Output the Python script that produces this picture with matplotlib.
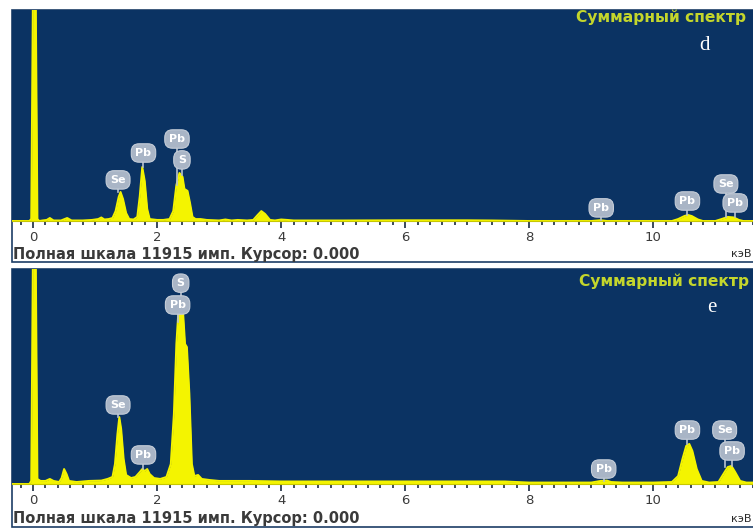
import matplotlib.pyplot as plt
from matplotlib.patches import Rectangle
from matplotlib.ticker import MultipleLocator

# EDS spectra, counts vs energy (keV)
full_scale = 11915

energy_d = [-0.35, -0.06, -0.03, 0.0, 0.04, 0.07, 0.10, 0.15, 0.22, 0.27, 0.33, 0.45,
            0.55, 0.62, 0.80, 0.95, 1.05, 1.10, 1.15, 1.22, 1.28, 1.33, 1.38, 1.41,
            1.45, 1.50, 1.55, 1.62, 1.68, 1.72, 1.76, 1.80, 1.84, 1.88, 2.00, 2.10,
            2.20, 2.26, 2.31, 2.36, 2.41, 2.44, 2.49, 2.53, 2.57, 2.62, 2.70, 2.80,
            3.00, 3.10, 3.20, 3.30, 3.45, 3.55, 3.62, 3.68, 3.74, 3.82, 3.90, 4.00,
            4.10, 4.20, 5.00, 6.00, 7.00, 7.40, 8.00, 9.00, 9.15, 9.25, 10.30, 10.40,
            10.50, 10.56, 10.62, 10.72, 10.80, 11.00, 11.10, 11.20, 11.30, 11.38,
            11.45, 11.70]
counts_d = [0, 0, 110, 14000, 14000, 110, 0, 30, 60, 170, 30, 30,
            170, 30, 30, 60, 110, 200, 85, 110, 170, 560, 1360, 1640,
            1240, 450, 110, 85, 230, 1410, 3050, 2260, 680, 110, 60, 60,
            110, 560, 2030, 2710, 2490, 1810, 1700, 1020, 230, 110, 110, 60,
            30, 85, 30, 60, 30, 60, 340, 560, 400, 60, 30, 85,
            60, 30, 30, 40, 40, 30, 0, 0, 45, 0, 0, 110,
            280, 340, 280, 85, 0, 0, 110, 230, 200, 60,
            0, 0]

energy_e = [-0.35, -0.06, -0.03, 0.0, 0.04, 0.07, 0.12, 0.20, 0.27, 0.33, 0.42, 0.46,
            0.50, 0.54, 0.58, 0.70, 0.90, 1.10, 1.20, 1.28, 1.32, 1.36, 1.39, 1.42,
            1.46, 1.50, 1.58, 1.65, 1.72, 1.76, 1.80, 1.84, 1.88, 1.95, 2.05, 2.15,
            2.22, 2.27, 2.31, 2.35, 2.38, 2.42, 2.45, 2.48, 2.52, 2.56, 2.60, 2.66,
            2.72, 2.85, 3.00, 3.50, 4.00, 5.00, 6.00, 7.00, 7.60, 8.00, 9.00, 9.15,
            9.25, 9.32, 9.50, 10.00, 10.30, 10.40, 10.47, 10.53, 10.58, 10.63, 10.70,
            10.78, 10.90, 11.05, 11.12, 11.20, 11.26, 11.32, 11.40, 11.50, 11.70]
counts_e = [0, 0, 170, 14000, 14000, 280, 170, 170, 280, 170, 110, 330,
            830, 550, 170, 110, 170, 190, 280, 390, 1110, 2770, 3710, 3050,
            1390, 500, 330, 390, 660, 830, 720, 830, 550, 330, 280, 390,
            1110, 3880, 7760, 9970, 10190, 9420, 7760, 7590, 4990, 1110, 440, 500,
            280, 220, 170, 170, 140, 140, 140, 140, 140, 80, 80, 170,
            190, 110, 80, 80, 110, 440, 1390, 2110, 2220, 1830, 830,
            170, 80, 110, 500, 940, 1000, 660, 170, 80, 80]

# peak markers: symbol, energy, marker height, height of the peak below it
labels_d = [("Se", 1.37, 2320, 1640), ("Pb", 1.78, 3840, 3050),
            ("Pb", 2.32, 4630, 2030), ("S", 2.40, 3450, 2600),
            ("Pb", 9.16, 740, 45), ("Pb", 10.55, 1130, 340),
            ("Se", 11.17, 2090, 230), ("Pb", 11.32, 1020, 200)]
labels_e = [("S", 2.38, 11130, 10190), ("Pb", 2.33, 9920, 9000),
            ("Se", 1.37, 4380, 3710), ("Pb", 1.78, 1610, 830),
            ("Pb", 9.20, 830, 190), ("Pb", 10.55, 2990, 2220),
            ("Se", 11.15, 2990, 940), ("Pb", 11.27, 1830, 1000)]

W, H = 753, 528
blue = "#0b3363"
yellow = "#f4f400"
bubble = "#a9b5c6"

fig = plt.figure(figsize=(W / 100, H / 100), dpi=100)
fig.patch.set_facecolor("white")


def fx(px):
    return px / W


def fy(py):
    return 1 - py / H


def draw_panel(top, base, bottom, energy, counts, labels, title_x, title_y):
    # white strip + border of the whole panel
    fig.add_artist(Rectangle((fx(12), fy(bottom)), fx(760 - 12), fy(top) - fy(bottom),
                             transform=fig.transFigure, facecolor="white",
                             edgecolor="#1d3d66", lw=1.2, zorder=0))
    ax = fig.add_axes([fx(12), fy(base), 1.02 - fx(12), fy(top) - fy(base)])
    ax.set_facecolor(blue)
    ax.fill_between(energy, counts, color=yellow, lw=0)
    ax.plot(energy, counts, color=yellow, lw=1.4)
    ax.set_xlim(-0.34, 11.85)
    ax.set_ylim(0, full_scale)
    ax.set_yticks([])
    for s in ["top", "left", "right"]:
        ax.spines[s].set_visible(False)
    ax.spines["bottom"].set_color("#c8c800")
    ax.xaxis.set_major_locator(MultipleLocator(2))
    ax.xaxis.set_minor_locator(MultipleLocator(0.2))
    ax.tick_params(axis="x", which="major", length=5, width=1.2, color="#1a2a40",
                   labelsize=9.5, labelcolor="#3a3a3a", pad=2)
    ax.tick_params(axis="x", which="minor", length=3, width=1.2, color="#1a2a40")

    for sym, e, y, ypeak in labels:
        ax.plot([e, e], [ypeak, y], color="#b8c2d0", lw=1.2, zorder=3)
        ax.text(e, y, sym, ha="center", va="center", fontsize=8, fontweight="bold",
                color="white", zorder=4,
                bbox=dict(boxstyle="round,pad=0.38,rounding_size=0.7", fc=bubble,
                          ec="#c5cdd8", lw=0.8))

    fig.text(fx(title_x), fy(title_y), "Суммарный спектр", fontsize=11.2,
             fontweight="bold", color="#c4d62c", va="center", ha="left")
    fig.text(fx(13), fy(bottom - 8), "Полная шкала 11915 имп. Курсор: 0.000",
             fontsize=10.5, fontweight="bold", color="#3a3a3a", va="center", ha="left")
    fig.text(fx(752), fy(bottom - 8), "кэВ", fontsize=8, color="#2a2a2a",
             va="center", ha="right")
    return ax


ax_d = draw_panel(10, 221, 262, energy_d, counts_d, labels_d, 576, 17)
fig.text(fx(705), fy(45), "d", fontsize=15, color="white", family="Liberation Serif",
         ha="center", va="center")

ax_e = draw_panel(269, 484, 527, energy_e, counts_e, labels_e, 579, 281)
fig.text(fx(712), fy(308), "e", fontsize=15, color="white", family="Liberation Serif",
         ha="center", va="center")

fig.savefig("out.png", dpi=100)
